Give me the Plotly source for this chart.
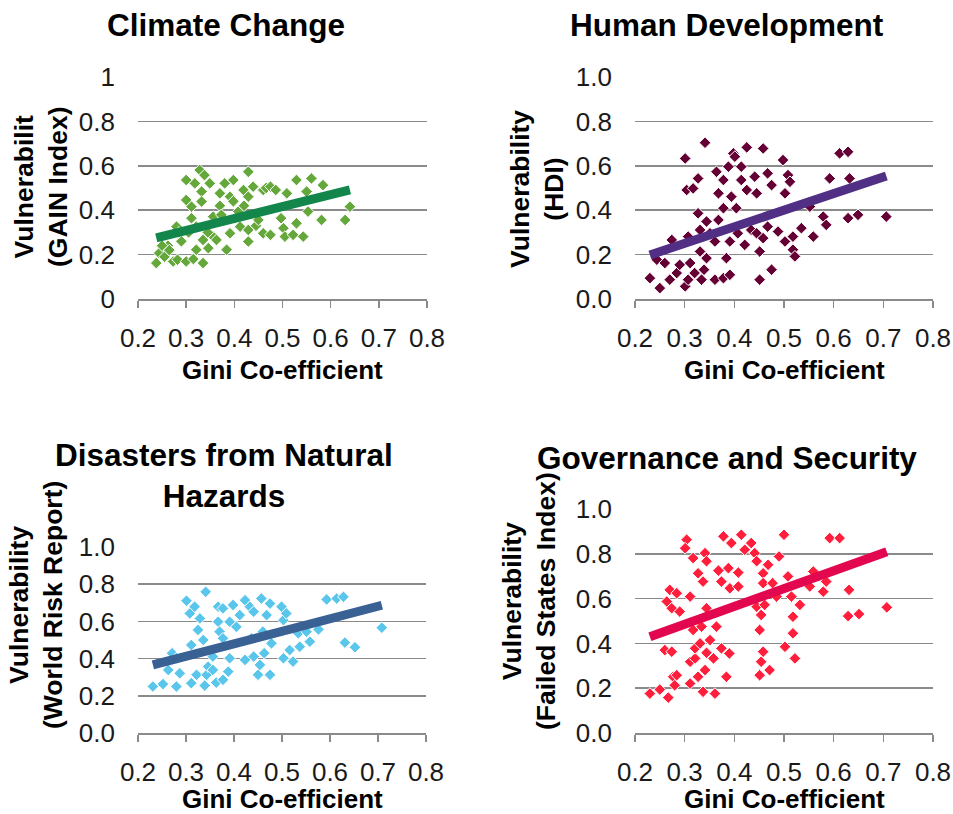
import plotly.graph_objects as go

W, H = 953, 814

titles = ["Climate Change", "Human Development", "Disasters from Natural<br>Hazards", "Governance and Security"]
ytitles = ["Vulnerabilit<br>(GAIN Index)", "Vulnerability<br>(HDI)", "Vulnerability<br>(World Risk Report)", "Vulnerability<br>(Failed States Index)"]
xtitle = "Gini Co-efficient"
xticks = [0.2, 0.3, 0.4, 0.5, 0.6, 0.7, 0.8]
yticks = [0, 0.2, 0.4, 0.6, 0.8, 1.0]

# Climate change (GAIN index)
gini_cc = [0.238, 0.244, 0.255, 0.262, 0.273, 0.280, 0.282, 0.290, 0.300, 0.300,
           0.300, 0.305, 0.311, 0.311, 0.318, 0.321, 0.321, 0.328, 0.332, 0.332,
           0.335, 0.335, 0.338, 0.346, 0.349, 0.356, 0.356, 0.363, 0.370, 0.370,
           0.373, 0.380, 0.384, 0.391, 0.391, 0.398, 0.398, 0.408, 0.412, 0.419,
           0.420, 0.429, 0.429, 0.429, 0.429, 0.439, 0.445, 0.450, 0.460, 0.460,
           0.466, 0.475, 0.475, 0.486, 0.497, 0.502, 0.505, 0.509, 0.522, 0.529,
           0.529, 0.543, 0.550, 0.553, 0.560, 0.581, 0.584, 0.630, 0.640, 0.250,
           0.265, 0.285, 0.345, 0.315]
vul_cc = [0.162, 0.207, 0.190, 0.240, 0.169, 0.326, 0.177, 0.260, 0.536, 0.446,
          0.169, 0.300, 0.416, 0.364, 0.521, 0.222, 0.326, 0.581, 0.484, 0.439,
          0.162, 0.266, 0.558, 0.229, 0.521, 0.371, 0.281, 0.266, 0.476, 0.420,
          0.379, 0.521, 0.222, 0.296, 0.461, 0.536, 0.440, 0.394, 0.326, 0.491,
          0.420, 0.259, 0.461, 0.573, 0.311, 0.506, 0.330, 0.356, 0.491, 0.296,
          0.500, 0.289, 0.506, 0.491, 0.364, 0.319, 0.281, 0.476, 0.289, 0.536,
          0.341, 0.281, 0.484, 0.394, 0.543, 0.356, 0.513, 0.356, 0.416, 0.240,
          0.220, 0.300, 0.300, 0.180]

# Human development (HDI)
gini_hd = [0.230, 0.250, 0.244, 0.260, 0.270, 0.274, 0.284, 0.290, 0.301, 0.301,
           0.304, 0.307, 0.311, 0.307, 0.317, 0.320, 0.327, 0.327, 0.331, 0.331,
           0.334, 0.339, 0.341, 0.344, 0.344, 0.351, 0.361, 0.361, 0.364, 0.368,
           0.368, 0.378, 0.378, 0.378, 0.384, 0.391, 0.388, 0.391, 0.394, 0.398,
           0.401, 0.404, 0.407, 0.414, 0.414, 0.421, 0.425, 0.425, 0.434, 0.441,
           0.445, 0.445, 0.451, 0.451, 0.458, 0.458, 0.467, 0.467, 0.475, 0.475,
           0.488, 0.498, 0.502, 0.502, 0.508, 0.512, 0.518, 0.518, 0.522, 0.535,
           0.552, 0.559, 0.579, 0.585, 0.592, 0.612, 0.629, 0.629, 0.632, 0.649,
           0.706]
vul_hd = [0.094, 0.049, 0.177, 0.162, 0.087, 0.266, 0.117, 0.154, 0.633, 0.057,
          0.491, 0.281, 0.162, 0.087, 0.498, 0.117, 0.543, 0.386, 0.214, 0.311,
          0.087, 0.132, 0.704, 0.349, 0.184, 0.296, 0.087, 0.259, 0.573, 0.476,
          0.356, 0.094, 0.536, 0.409, 0.184, 0.109, 0.596, 0.259, 0.461, 0.656,
          0.641, 0.409, 0.296, 0.596, 0.536, 0.244, 0.491, 0.683, 0.311, 0.551,
          0.476, 0.296, 0.214, 0.087, 0.678, 0.274, 0.326, 0.566, 0.132, 0.513,
          0.304, 0.626, 0.476, 0.259, 0.558, 0.528, 0.281, 0.222, 0.192, 0.319,
          0.416, 0.281, 0.371, 0.334, 0.543, 0.656, 0.663, 0.364, 0.543, 0.379,
          0.371]

# Disasters from natural hazards (World Risk Report)
gini_dn = [0.231, 0.252, 0.263, 0.271, 0.280, 0.280, 0.287, 0.301, 0.308, 0.311,
           0.311, 0.318, 0.322, 0.325, 0.329, 0.336, 0.339, 0.341, 0.343, 0.346,
           0.356, 0.356, 0.363, 0.367, 0.367, 0.370, 0.377, 0.377, 0.377, 0.388,
           0.391, 0.391, 0.398, 0.405, 0.412, 0.423, 0.423, 0.433, 0.436, 0.441,
           0.441, 0.450, 0.454, 0.457, 0.460, 0.463, 0.468, 0.475, 0.475, 0.478,
           0.499, 0.503, 0.503, 0.509, 0.516, 0.523, 0.534, 0.537, 0.551, 0.558,
           0.576, 0.593, 0.614, 0.628, 0.631, 0.652, 0.708]
vul_dn = [0.250, 0.263, 0.339, 0.429, 0.250, 0.402, 0.321, 0.711, 0.643, 0.268,
          0.473, 0.679, 0.313, 0.554, 0.616, 0.500, 0.255, 0.759, 0.313, 0.357,
          0.339, 0.411, 0.271, 0.598, 0.679, 0.545, 0.670, 0.509, 0.286, 0.330,
          0.402, 0.598, 0.688, 0.571, 0.634, 0.714, 0.393, 0.679, 0.509, 0.652,
          0.411, 0.313, 0.366, 0.723, 0.545, 0.429, 0.634, 0.313, 0.696, 0.482,
          0.679, 0.607, 0.402, 0.643, 0.446, 0.384, 0.536, 0.464, 0.545, 0.491,
          0.557, 0.718, 0.723, 0.732, 0.486, 0.461, 0.566]

# Governance and security (Failed States Index)
gini_gs = [0.230, 0.250, 0.260, 0.264, 0.267, 0.270, 0.274, 0.274, 0.277, 0.280,
           0.284, 0.284, 0.290, 0.304, 0.301, 0.311, 0.311, 0.311, 0.317, 0.317,
           0.321, 0.321, 0.327, 0.327, 0.331, 0.334, 0.337, 0.337, 0.341, 0.341,
           0.344, 0.344, 0.344, 0.351, 0.358, 0.361, 0.364, 0.368, 0.374, 0.374,
           0.378, 0.384, 0.388, 0.390, 0.391, 0.394, 0.408, 0.408, 0.414, 0.421,
           0.434, 0.441, 0.445, 0.445, 0.451, 0.454, 0.454, 0.451, 0.458, 0.458,
           0.461, 0.458, 0.468, 0.471, 0.477, 0.485, 0.490, 0.500, 0.502, 0.508,
           0.515, 0.518, 0.518, 0.522, 0.532, 0.552, 0.559, 0.579, 0.585, 0.592,
           0.612, 0.631, 0.629, 0.651, 0.707]
vul_gs = [0.176, 0.194, 0.370, 0.587, 0.158, 0.639, 0.557, 0.363, 0.251, 0.213,
          0.258, 0.624, 0.542, 0.863, 0.825, 0.609, 0.318, 0.221, 0.781, 0.460,
          0.333, 0.378, 0.713, 0.251, 0.400, 0.475, 0.676, 0.184, 0.803, 0.281,
          0.767, 0.557, 0.358, 0.415, 0.333, 0.176, 0.475, 0.725, 0.676, 0.378,
          0.878, 0.251, 0.736, 0.355, 0.646, 0.848, 0.654, 0.716, 0.885, 0.818,
          0.848, 0.803, 0.767, 0.564, 0.460, 0.527, 0.318, 0.258, 0.363, 0.713,
          0.572, 0.669, 0.751, 0.281, 0.669, 0.609, 0.788, 0.885, 0.385, 0.699,
          0.609, 0.519, 0.445, 0.333, 0.572, 0.654, 0.721, 0.631, 0.676, 0.870,
          0.870, 0.639, 0.522, 0.531, 0.561]

# linear trend lines (slope, intercept)
trend_slope = [0.536, 0.746, 0.672, 0.795]
trend_intercept = [0.148, 0.027, 0.211, 0.247]

marker_colors = ["#64A83C", "#650035", "#5BC6EC", "#FF1F3D"]
line_colors = ["#13874B", "#512F84", "#3A6193", "#E2074F"]

xs = [gini_cc, gini_hd, gini_dn, gini_gs]
ys = [vul_cc, vul_hd, vul_dn, vul_gs]

# plot areas in screen pixels: (left, right, top, bottom)
boxes = [(138, 427, 77, 299), (635, 933, 77, 299), (138, 426, 547, 733), (635, 933, 509, 733)]
ytitle_pos = [(41, 187), (537, 189), (36, 605), (529, 601)]
title_pos = [(226, 25), (727, 25), (224, 476), (727, 458)]
xtitle_pos = [(282, 370), (784, 370), (282, 799), (784, 799)]


def px(x):
    return x / W


def py(y):
    return 1 - y / H


FONT = "Liberation Sans, Arial, sans-serif"

fig = go.Figure()
layout = dict(width=W, height=H, autosize=False, template="none",
              margin=dict(l=0, r=0, t=0, b=0, pad=0, autoexpand=False),
              paper_bgcolor="white", plot_bgcolor="white", showlegend=False,
              hovermode=False, annotations=[])

for i in range(4):
    ax = "" if i == 0 else str(i + 1)
    l, r, t, b = boxes[i]
    fig.add_trace(go.Scatter(
        x=xs[i], y=ys[i], mode="markers", xaxis="x" + ax, yaxis="y" + ax,
        marker=dict(symbol="diamond", size=9, color=marker_colors[i],
                    line=dict(color="white", width=1))))
    x0, x1 = min(xs[i]), max(xs[i])
    fig.add_trace(go.Scatter(
        x=[x0, x1], y=[trend_slope[i] * x0 + trend_intercept[i], trend_slope[i] * x1 + trend_intercept[i]],
        mode="lines", xaxis="x" + ax, yaxis="y" + ax,
        line=dict(color=line_colors[i], width=9)))
    layout["xaxis" + ax] = dict(
        domain=[px(l), px(r)], anchor="y" + ax, range=[0.2, 0.8], tickvals=xticks,
        tickformat=".1f", showgrid=False, zeroline=False, showline=True, automargin=False,
        linecolor="#8A8A8A", linewidth=1.5, ticks="outside", ticklen=7,
        tickcolor="#8A8A8A", tickwidth=1.5, ticklabelstandoff=8,
        tickfont=dict(family=FONT, size=26, color="#1a1a1a"))
    layout["yaxis" + ax] = dict(
        domain=[py(b), py(t)], anchor="x" + ax, range=[0, 1], tickvals=yticks,
        tickformat="" if i == 0 else ".1f", showgrid=True, gridcolor="#8A8A8A",
        gridwidth=1.5, zeroline=False, showline=False, ticks="", automargin=False,
        ticklabelstandoff=22,
        tickfont=dict(family=FONT, size=26, color="#1a1a1a"))
    tx, ty = title_pos[i]
    layout["annotations"].append(dict(
        text="<b>" + titles[i] + "</b>", x=px(tx), y=py(ty), xref="paper", yref="paper",
        showarrow=False, xanchor="center", yanchor="middle",
        font=dict(family=FONT, size=31.5, color="black")))
    yx, yy = ytitle_pos[i]
    layout["annotations"].append(dict(
        text="<b>" + ytitles[i] + "</b>", x=px(yx), y=py(yy), xref="paper", yref="paper",
        showarrow=False, xanchor="center", yanchor="middle", textangle=-90,
        font=dict(family=FONT, size=26.5, color="black")))
    gx, gy = xtitle_pos[i]
    layout["annotations"].append(dict(
        text="<b>" + xtitle + "</b>", x=px(gx), y=py(gy), xref="paper", yref="paper",
        showarrow=False, xanchor="center", yanchor="middle",
        font=dict(family=FONT, size=26, color="black")))

fig.update_layout(**layout)
fig.write_html("out.html", config={"displayModeBar": False, "staticPlot": True},
               post_script="document.body.style.margin='0';document.body.style.overflow='hidden';")
